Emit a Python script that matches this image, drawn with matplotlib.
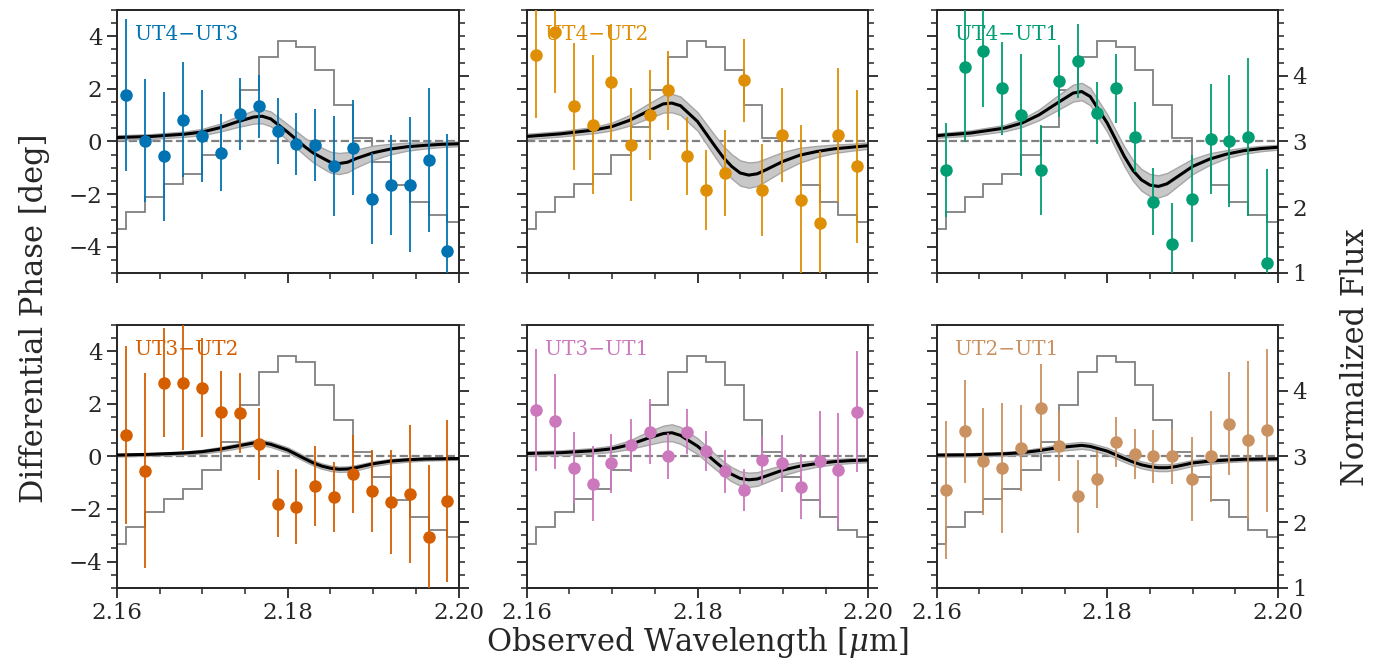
import numpy as np
import matplotlib.pyplot as plt
from matplotlib.ticker import MultipleLocator

plt.rcParams['font.family'] = ['DejaVu Serif']
plt.rcParams['mathtext.fontset'] = 'dejavuserif'
plt.rcParams['text.color'] = '.15'
plt.rcParams['axes.edgecolor'] = '.15'
plt.rcParams['xtick.color'] = '.15'
plt.rcParams['ytick.color'] = '.15'

# wavelength of the spectral channels [um]
wave = [2.1611, 2.1633, 2.1655, 2.1677, 2.1699, 2.1722, 2.1744, 2.1766, 2.1788,
        2.1810, 2.1832, 2.1854, 2.1876, 2.1899, 2.1921, 2.1943, 2.1965, 2.1987]

# normalized line flux (step profile), one value per bin
flux = [1.67, 1.92, 2.15, 2.35, 2.51, 2.79, 3.22, 3.78, 4.28, 4.53,
        4.44, 4.08, 3.55, 3.06, 2.68, 2.34, 2.08, 1.88, 1.77]
flux_lo, flux_hi = 2.1589, 2.2009

baselines = ['UT4\u2212UT3', 'UT4\u2212UT2', 'UT4\u2212UT1',
             'UT3\u2212UT2', 'UT3\u2212UT1', 'UT2\u2212UT1']
colors = ['#0173B2', '#DE8F05', '#029E73', '#D55E00', '#CC78BC', '#CA9161']

# differential phase data [deg] and 1-sigma errors
dphi_43 = [1.77, 0.03, -0.57, 0.82, 0.22, -0.43, 1.05, 1.33, 0.41,
           -0.09, -0.14, -0.95, -0.23, -2.17, -1.65, -1.65, -0.72, -4.18]
err_43 = [2.9, 2.35, 2.47, 2.19, 1.75, 1.47, 1.38, 1.2, 1.25,
          1.17, 1.37, 1.9, 1.8, 1.73, 1.9, 2.57, 2.74, 4.47]
dphi_42 = [3.30, 4.16, 1.33, 0.63, 2.26, -0.13, 1.01, 1.94, -0.56,
           -1.84, -1.20, 2.32, -1.84, 0.25, -2.24, -3.10, 0.23, -0.95]
err_42 = [2.4, 2.3, 2.4, 2.64, 2.2, 2.15, 1.72, 1.52, 1.48,
          1.52, 1.65, 1.58, 1.76, 1.79, 2.88, 2.73, 2.55, 2.9]
dphi_41 = [-1.08, 2.83, 3.46, 2.03, 1.01, -1.08, 2.31, 3.07, 1.08,
           2.03, 0.18, -2.29, -3.89, -2.17, 0.09, 0.03, 0.16, -4.63]
err_41 = [1.79, 2.86, 2.15, 1.77, 2.31, 1.7, 1.37, 1.4, 1.18,
          1.31, 1.34, 1.28, 1.55, 1.66, 2.1, 2.51, 3.0, 3.6]
dphi_32 = [0.81, -0.54, 2.81, 2.81, 2.62, 1.70, 1.66, 0.47, -1.80,
           -1.91, -1.13, -1.55, -0.66, -1.31, -1.74, -1.42, -3.05, -1.71]
err_32 = [3.4, 3.7, 2.08, 2.55, 1.88, 1.53, 1.53, 1.36, 1.28,
          1.42, 1.52, 1.33, 1.48, 1.57, 1.97, 2.62, 2.71, 3.08]
dphi_31 = [1.75, 1.34, -0.44, -1.04, -0.27, 0.43, 0.94, 0.01, 0.94,
           0.20, -0.57, -1.27, -0.14, -0.27, -1.15, -0.16, -0.52, 1.70]
err_31 = [2.32, 1.81, 1.35, 1.43, 1.14, 1.01, 1.23, 0.87, 0.85,
          0.76, 0.82, 0.80, 0.9, 1.1, 1.25, 1.87, 2.18, 2.3]
dphi_21 = [-1.28, 0.95, -0.19, -0.44, 0.32, 1.85, 0.39, -1.51, -0.85,
           0.56, 0.09, 0.0, 0.0, -0.85, 0.0, 1.25, 0.61, 0.99]
err_21 = [2.63, 1.96, 2.04, 2.47, 1.63, 1.65, 1.33, 1.39, 1.1,
          0.95, 0.95, 1.0, 1.05, 1.6, 1.73, 1.95, 3.0, 3.1]

# best-fit model and its uncertainty band
model_wave = [2.160, 2.164, 2.168, 2.170, 2.172, 2.174, 2.176, 2.177, 2.178, 2.180, 2.182,
              2.183, 2.184, 2.185, 2.186, 2.187, 2.188, 2.190, 2.192, 2.194, 2.196, 2.198, 2.200]
model_43 = [0.15, 0.19, 0.28, 0.36, 0.52, 0.74, 0.93, 0.96, 0.86, 0.35, -0.20,
            -0.44, -0.62, -0.79, -0.84, -0.79, -0.65, -0.43, -0.29, -0.20, -0.15, -0.11, -0.09]
band_43 = [0.08, 0.09, 0.1, 0.12, 0.15, 0.2, 0.25, 0.27, 0.28, 0.3, 0.33,
           0.36, 0.38, 0.4, 0.4, 0.38, 0.34, 0.27, 0.2, 0.15, 0.12, 0.1, 0.09]
model_42 = [0.19, 0.29, 0.44, 0.57, 0.80, 1.12, 1.43, 1.46, 1.36, 0.76, -0.16,
            -0.60, -0.95, -1.20, -1.28, -1.23, -1.08, -0.76, -0.52, -0.38, -0.28, -0.22, -0.16]
band_42 = [0.1, 0.1, 0.12, 0.15, 0.2, 0.27, 0.33, 0.35, 0.35, 0.35, 0.4,
           0.43, 0.46, 0.48, 0.48, 0.46, 0.43, 0.36, 0.28, 0.21, 0.16, 0.13, 0.12]
model_41 = [0.22, 0.32, 0.51, 0.70, 1.01, 1.43, 1.84, 1.90, 1.71, 0.70, -0.57,
            -1.10, -1.46, -1.66, -1.71, -1.61, -1.39, -0.95, -0.67, -0.48, -0.35, -0.27, -0.22]
band_41 = [0.08, 0.1, 0.12, 0.15, 0.2, 0.27, 0.32, 0.33, 0.33, 0.33, 0.37,
           0.39, 0.41, 0.42, 0.42, 0.41, 0.37, 0.29, 0.22, 0.15, 0.12, 0.1, 0.09]
model_32 = [0.05, 0.08, 0.13, 0.18, 0.27, 0.39, 0.51, 0.52, 0.46, 0.24, -0.09,
            -0.25, -0.37, -0.45, -0.49, -0.48, -0.43, -0.28, -0.18, -0.13, -0.10, -0.09, -0.08]
band_32 = [0.05, 0.05, 0.06, 0.07, 0.08, 0.09, 0.1, 0.1, 0.1, 0.1, 0.1,
           0.1, 0.1, 0.1, 0.1, 0.1, 0.1, 0.09, 0.08, 0.07, 0.06, 0.05, 0.05]
model_31 = [0.11, 0.14, 0.22, 0.29, 0.44, 0.67, 0.87, 0.90, 0.80, 0.39, -0.18,
            -0.45, -0.68, -0.84, -0.89, -0.86, -0.75, -0.52, -0.37, -0.27, -0.20, -0.16, -0.14]
band_31 = [0.08, 0.09, 0.1, 0.12, 0.16, 0.24, 0.3, 0.32, 0.32, 0.3, 0.28,
           0.27, 0.27, 0.27, 0.27, 0.26, 0.24, 0.2, 0.16, 0.12, 0.1, 0.09, 0.08]
model_21 = [0.05, 0.06, 0.10, 0.14, 0.22, 0.32, 0.39, 0.42, 0.38, 0.20, -0.08,
            -0.21, -0.32, -0.39, -0.43, -0.43, -0.39, -0.25, -0.18, -0.14, -0.11, -0.10, -0.09]
band_21 = [0.06, 0.06, 0.07, 0.08, 0.1, 0.12, 0.13, 0.13, 0.13, 0.13, 0.13,
           0.13, 0.13, 0.13, 0.13, 0.13, 0.12, 0.11, 0.1, 0.08, 0.07, 0.06, 0.06]

dphi_all = [dphi_43, dphi_42, dphi_41, dphi_32, dphi_31, dphi_21]
err_all = [err_43, err_42, err_41, err_32, err_31, err_21]
model_all = [model_43, model_42, model_41, model_32, model_31, model_21]
band_all = [band_43, band_42, band_41, band_32, band_31, band_21]

edges = np.concatenate([[flux_lo], wave, [flux_hi]])
mw = np.array(model_wave)

fig, axes = plt.subplots(2, 3, figsize=(13.87, 6.68), dpi=100)
fig.subplots_adjust(left=0.0844, right=0.9214, top=0.985, bottom=0.12,
                    wspace=0.2, hspace=0.198)

for ii, ax in enumerate(axes.flat):
    row, col = divmod(ii, 3)
    tw = ax.twinx()
    tw.stairs(flux, edges, color='0.5', lw=1.3)
    tw.set_ylim(1, 5)
    tw.set_yticks([1, 2, 3, 4])
    tw.yaxis.set_minor_locator(MultipleLocator(0.2))
    tw.tick_params(which='major', direction='out', length=7, width=1.3, labelsize=16.5)
    tw.tick_params(which='minor', direction='out', length=4, width=1.1)
    if col != 2:
        tw.set_yticklabels([])
    ax.set_zorder(tw.get_zorder() + 1)
    ax.patch.set_visible(False)

    m = np.array(model_all[ii])
    b = np.array(band_all[ii])
    ax.axhline(0, color='0.5', ls='--', lw=1.6, zorder=1)
    ax.fill_between(mw, m - b, m + b, facecolor='#c8c8c8', edgecolor='#a6a6a6',
                    lw=1.0, zorder=2)
    ax.plot(mw, m, color='k', lw=2.2, zorder=3)
    ax.errorbar(wave, dphi_all[ii], yerr=err_all[ii], fmt='o', color=colors[ii],
                ms=8, elinewidth=1.3, capsize=0, zorder=4)
    ax.text(0.053, 0.905, baselines[ii], color=colors[ii], fontsize=14.5,
            transform=ax.transAxes, va='center', ha='left', zorder=5)

    ax.set_xlim(2.16, 2.20)
    ax.set_ylim(-5, 5)
    ax.set_xticks([2.16, 2.18, 2.20])
    ax.xaxis.set_minor_locator(MultipleLocator(0.005))
    ax.set_yticks([-4, -2, 0, 2, 4])
    ax.yaxis.set_minor_locator(MultipleLocator(0.5))
    ax.tick_params(which='major', direction='out', length=7, width=1.3, labelsize=16.5)
    ax.tick_params(which='minor', direction='out', length=4, width=1.1)
    if row == 0:
        ax.set_xticklabels([])
    if col != 0:
        ax.set_yticklabels([])
    for sp in list(ax.spines.values()) + list(tw.spines.values()):
        sp.set_linewidth(1.3)

fig.text(0.503, 0.038, r'Observed Wavelength [$\mu$m]', ha='center', va='center', fontsize=22)
fig.text(0.025, 0.523, 'Differential Phase [deg]', ha='center', va='center',
         rotation=90, fontsize=22)
fig.text(0.977, 0.466, 'Normalized Flux', ha='center', va='center',
         rotation=90, fontsize=22)

fig.savefig('out.png', dpi=100)
